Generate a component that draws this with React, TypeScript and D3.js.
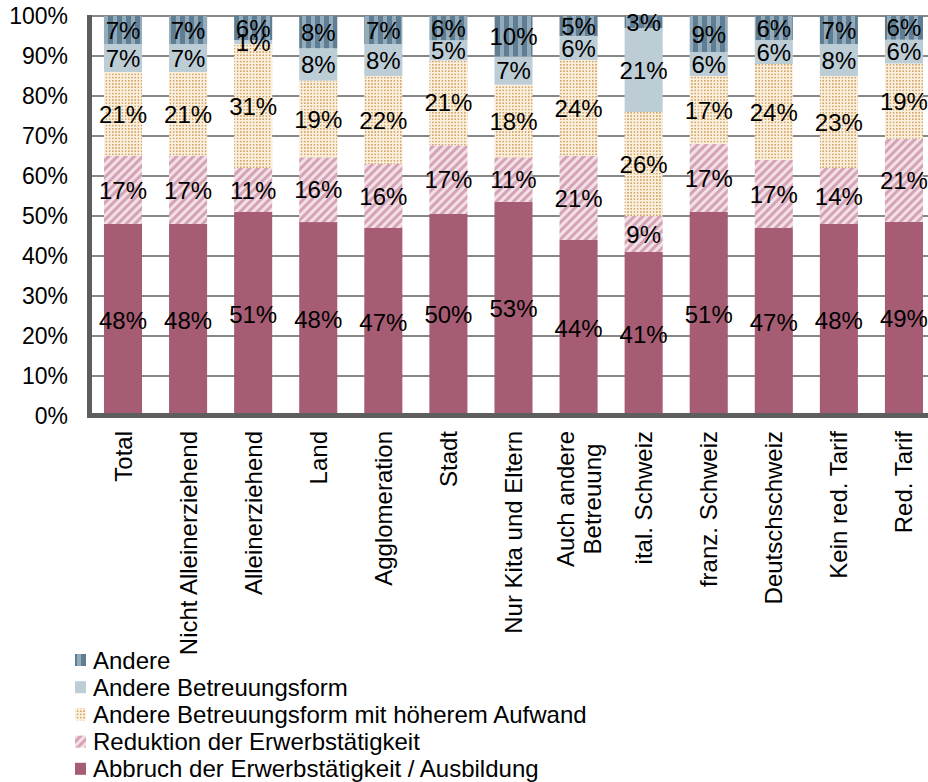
import React from "react";
import * as d3 from "d3";

const categories = [
  "Total",
  "Nicht Alleinerziehend",
  "Alleinerziehend",
  "Land",
  "Agglomeration",
  "Stadt",
  "Nur Kita und Eltern",
  "Auch andere\nBetreuung",
  "ital. Schweiz",
  "franz. Schweiz",
  "Deutschschweiz",
  "Kein red. Tarif",
  "Red. Tarif",
];

const abbruch = [48, 48, 51, 48, 47, 50, 53, 44, 41, 51, 47, 48, 49];
const reduktion = [17, 17, 11, 16, 16, 17, 11, 21, 9, 17, 17, 14, 21];
const aufwand = [21, 21, 31, 19, 22, 21, 18, 24, 26, 17, 24, 23, 19];
const betreuung = [7, 7, 1, 8, 8, 5, 7, 6, 21, 6, 6, 8, 6];
const andere = [7, 7, 6, 8, 7, 6, 10, 5, 3, 9, 6, 7, 6];

const seriesNames = [
  "Abbruch der Erwerbstätigkeit / Ausbildung",
  "Reduktion der Erwerbstätigkeit",
  "Andere Betreuungsform mit höherem Aufwand",
  "Andere Betreuungsform",
  "Andere",
];
const seriesKeys = ["abbruch", "reduktion", "aufwand", "betreuung", "andere"];
const seriesValues = [abbruch, reduktion, aufwand, betreuung, andere];
const seriesFills = [
  "#A65D74",
  "url(#pRed)",
  "url(#pDots)",
  "#BDCDD6",
  "url(#pAndere)",
];

const yTicks = [0, 0.1, 0.2, 0.3, 0.4, 0.5, 0.6, 0.7, 0.8, 0.9, 1];

const FONT = "'Liberation Sans', Arial, sans-serif";

function measure(text: string, size: number): number {
  if (typeof document === "undefined") return text.length * size * 0.5;
  const c = document.createElement("canvas");
  const ctx = c.getContext("2d");
  if (!ctx) return text.length * size * 0.5;
  ctx.font = `${size}px 'Liberation Sans', Arial, sans-serif`;
  return ctx.measureText(text).width;
}

export default function App() {
  const W = 928;
  const H = 782;
  const step = 65.08;
  const x0 = 123 - step / 2;
  const x = d3
    .scaleBand<string>()
    .domain(categories)
    .range([x0, x0 + step * categories.length])
    .paddingInner(0.415)
    .paddingOuter(0.2075);
  const y = d3.scaleLinear().domain([0, 1]).range([416, 16]);

  const table = categories.map((c, i) => {
    const row: any = { cat: c };
    seriesKeys.forEach((k, j) => (row[k] = seriesValues[j][i]));
    return row;
  });
  const stack = d3
    .stack<any>()
    .keys(seriesKeys)
    .offset(d3.stackOffsetExpand);
  const stacked = stack(table);

  const labelSize = 24;
  const tickSize = 23;
  const barLabelSize = 24;
  const lineH = 27;

  const legendOrder = [4, 3, 2, 1, 0];

  return (
    <svg width={W} height={H} style={{ display: "block", position: "absolute", left: 0, top: 0 }} fontFamily={FONT}>
      <defs>
        <pattern id="pAndere" patternUnits="userSpaceOnUse" width={9} height={9}>
          <rect width={9} height={9} fill="#94ABBB" />
          <rect x={0} width={5} height={9} fill="#5F7E93" />
        </pattern>
        <pattern id="pRed" patternUnits="userSpaceOnUse" width={6} height={6} patternTransform="rotate(45)">
          <rect width={6} height={6} fill="#F3E0E7" />
          <rect x={0} width={3} height={6} fill="#D4A3B5" />
        </pattern>
        <pattern id="pDots" patternUnits="userSpaceOnUse" width={3.2} height={3.2}>
          <rect width={3.2} height={3.2} fill="#FBF0DD" />
          <rect x={0} y={0} width={1.6} height={1.6} fill="#D2A56B" />
        </pattern>
      </defs>
      <rect width={W} height={H} fill="#fff" />

      {/* gridlines */}
      {yTicks.map((t) => (
        <line key={t} x1={88} x2={W} y1={y(t)} y2={y(t)} stroke="#878787" strokeWidth={2} />
      ))}

      {/* bars */}
      {stacked.map((s, si) => (
        <g key={s.key}>
          {s.map((d, i) => (
            <rect
              key={i}
              x={x(categories[i])}
              width={x.bandwidth()}
              y={y(d[1])}
              height={y(d[0]) - y(d[1])}
              fill={seriesFills[si]}
            />
          ))}
        </g>
      ))}

      {/* walls */}
      <rect x={87} y={15} width={5} height={403} fill="#5E5E5E" />
      <rect x={87} y={413} width={W - 87} height={5} fill="#5E5E5E" />

      {/* bar labels */}
      {stacked.map((s, si) => (
        <g key={"l" + s.key}>
          {s.map((d, i) => (
            <text
              key={i}
              x={(x(categories[i]) as number) + x.bandwidth() / 2}
              y={y((d[0] + d[1]) / 2)}
              textAnchor="middle"
              dominantBaseline="central"
              fontSize={barLabelSize}
              fill="#000"
            >
              {seriesValues[si][i] + "%"}
            </text>
          ))}
        </g>
      ))}

      {/* y tick labels */}
      {yTicks.map((t) => (
        <text
          key={"yt" + t}
          x={68}
          y={y(t)}
          textAnchor="end"
          dominantBaseline="central"
          fontSize={tickSize}
          fill="#000"
        >
          {Math.round(t * 100) + "%"}
        </text>
      ))}

      {/* x labels */}
      {categories.map((c) => {
        const lines = c.split("\n");
        const cx = (x(c) as number) + x.bandwidth() / 2;
        const top = 431;
        if (lines.length === 1) {
          return (
            <text
              key={"xl" + c}
              transform={`translate(${cx},${top}) rotate(-90)`}
              textAnchor="end"
              dominantBaseline="central"
              fontSize={labelSize}
              fill="#000"
            >
              {c}
            </text>
          );
        }
        const maxW = Math.max(...lines.map((l) => measure(l, labelSize)));
        return (
          <g key={"xl" + c} transform={`translate(${cx},${top}) rotate(-90)`}>
            {lines.map((l, li) => (
              <text
                key={li}
                x={-maxW / 2}
                y={(li - (lines.length - 1) / 2) * lineH}
                textAnchor="middle"
                dominantBaseline="central"
                fontSize={labelSize}
                fill="#000"
              >
                {l}
              </text>
            ))}
          </g>
        );
      })}

      {/* legend */}
      {legendOrder.map((si, r) => {
        const cy = 660 + r * 27.2;
        return (
          <g key={"lg" + si}>
            <rect x={75} y={cy - 6} width={11} height={12} fill={seriesFills[si]} />
            <text x={93} y={cy} dominantBaseline="central" fontSize={labelSize} fill="#000">
              {seriesNames[si]}
            </text>
          </g>
        );
      })}
    </svg>
  );
}
